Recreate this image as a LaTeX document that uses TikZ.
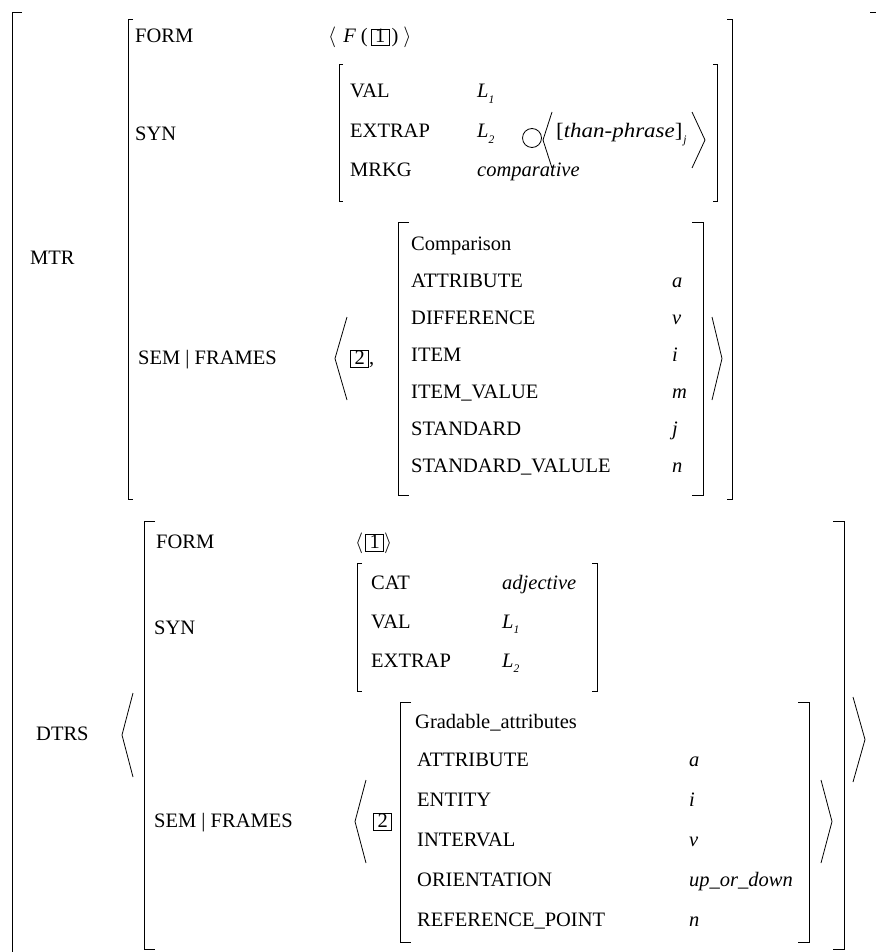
\documentclass[tikz,border=0pt]{standalone}
\usepackage{fontspec}
\usepackage{graphicx}
\setmainfont{Liberation Serif}

% feature-structure typography
\newcommand\avmfont{\fontsize{20.5}{23}\selectfont}
\newcommand\tagnum[1]{{\setlength\fboxsep{0pt}\setlength\fboxrule{0.8pt}%
  \fbox{\hspace{3.5pt}\rule[-2.5pt]{0pt}{15.5pt}#1\hspace{3.5pt}}}}
\newcommand\subit[1]{\raisebox{-0.55ex}{\fontsize{11.5}{12}\selectfont\itshape #1}}

% square brackets and angle brackets: x, top, bottom, tick/width
\newcommand\brL[4]{\draw[brk] ({#1+#4},#2) -- (#1,#2) -- (#1,#3) -- ({#1+#4},#3);}
\newcommand\brR[4]{\draw[brk] ({#1-#4},#2) -- (#1,#2) -- (#1,#3) -- ({#1-#4},#3);}
\newcommand\anL[4]{\draw[ang] ({#1+#4},#2) -- (#1,{(#2+#3)/2}) -- ({#1+#4},#3);}
\newcommand\anR[4]{\draw[ang] ({#1-#4},#2) -- (#1,{(#2+#3)/2}) -- ({#1-#4},#3);}

\tikzset{
  lbl/.style={anchor=base west, inner sep=0pt, font=\avmfont},
  brk/.style={line width=0.9pt},
  ang/.style={line width=0.8pt},
}

\begin{document}
\begin{tikzpicture}[x=1pt,y=-1pt]
\useasboundingbox (0,0) rectangle (875,952);

% ---------- outermost structure ----------
\draw[brk] (22,12) -- (12,12) -- (12,952);
\draw[brk] (870,12) -- (876,12) -- (876,952);

% ---------- MTR ----------
\node[lbl] (mtr) at (30,264) {MTR};
\brL{128}{19}{499}{5}
\brR{732}{19}{499}{5}

\node[lbl] (mform) at (135,43) {FORM};
\node[lbl] (mformv) at (328,43)
  {$\langle$\hspace{7pt}\textit{F}\hspace{5pt}(\hspace{3pt}\tagnum{1}\hspace{2pt})\hspace{5pt}$\rangle$};

\node[lbl] (msyn) at (135,141) {SYN};
\brL{339}{64}{201}{4}
\brR{717}{64}{201}{4}
\node[lbl] (mval) at (350,98) {VAL};
\node[lbl] (mext) at (350,138) {EXTRAP};
\node[lbl] (mmrk) at (350,177) {MRKG};
\node[lbl] (mvalv) at (477,98) {\textit{L}\subit{1}};
\node[lbl] (mextv) at (477,138) {\textit{L}\subit{2}};
\node[lbl] (mmrkv) at (477,177) {\textit{comparative}};
\draw[ang] (532,138) circle (9.5);
\anL{543}{112}{168}{9}
\node[lbl] (than) at (556,138) {\scalebox{1.12}[1]{[\textit{than-phrase}]}\hspace{1pt}\subit{j}};
\anR{705}{112}{168}{13}

\node[lbl] (msem) at (138,364) {SEM | FRAMES};
\anL{335}{317}{400}{12}
\node[lbl] (mtag) at (350,364) {\tagnum{2},};
\brL{398}{222}{495}{11}
\brR{703}{222}{495}{11}
\anR{722}{317}{400}{10}
\node[lbl] (c0) at (411,250) {Comparison};
\node[lbl] (c1) at (411,287) {ATTRIBUTE};
\node[lbl] (c2) at (411,324) {DIFFERENCE};
\node[lbl] (c3) at (411,361) {ITEM};
\node[lbl] (c4) at (411,398) {ITEM\_VALUE};
\node[lbl] (c5) at (411,435) {STANDARD};
\node[lbl] (c6) at (411,472) {STANDARD\_VALULE};
\node[lbl] (c1v) at (672,287) {\textit{a}};
\node[lbl] (c2v) at (672,324) {\textit{v}};
\node[lbl] (c3v) at (672,361) {\textit{i}};
\node[lbl] (c4v) at (672,398) {\textit{m}};
\node[lbl] (c5v) at (672,435) {\textit{j}};
\node[lbl] (c6v) at (672,472) {\textit{n}};

% ---------- DTRS ----------
\node[lbl] (dtrs) at (36,740) {DTRS};
\anL{122}{693}{777}{11}
\anR{865}{697}{782}{12}
\brL{144}{521}{949}{11}
\brR{844}{521}{949}{11}

\node[lbl] (dform) at (156,548) {FORM};
\node[lbl] (dformv) at (355,548) {$\langle$\hspace{2pt}\tagnum{1}$\rangle$};

\node[lbl] (dsyn) at (154,634) {SYN};
\brL{357}{563}{691}{5}
\brR{597}{563}{691}{5}
\node[lbl] (dcat) at (371,589) {CAT};
\node[lbl] (dval) at (371,628) {VAL};
\node[lbl] (dext) at (371,667) {EXTRAP};
\node[lbl] (dcatv) at (502,589) {\textit{adjective}};
\node[lbl] (dvalv) at (502,628) {\textit{L}\subit{1}};
\node[lbl] (dextv) at (502,667) {\textit{L}\subit{2}};

\node[lbl] (dsem) at (154,827) {SEM | FRAMES};
\anL{355}{780}{863}{11}
\node[lbl] (dtag) at (373,827) {\tagnum{2}};
\brL{400}{702}{942}{11}
\brR{809}{702}{942}{11}
\anR{832}{780}{863}{11}
\node[lbl] (g0) at (415,728) {Gradable\_attributes};
\node[lbl] (g1) at (417,766) {ATTRIBUTE};
\node[lbl] (g2) at (417,806) {ENTITY};
\node[lbl] (g3) at (417,846) {INTERVAL};
\node[lbl] (g4) at (417,886) {ORIENTATION};
\node[lbl] (g5) at (417,926) {REFERENCE\_POINT};
\node[lbl] (g1v) at (689,766) {\textit{a}};
\node[lbl] (g2v) at (689,806) {\textit{i}};
\node[lbl] (g3v) at (689,846) {\textit{v}};
\node[lbl] (g4v) at (689,886) {\textit{up\_or\_down}};
\node[lbl] (g5v) at (689,926) {\textit{n}};
\end{tikzpicture}
\end{document}
